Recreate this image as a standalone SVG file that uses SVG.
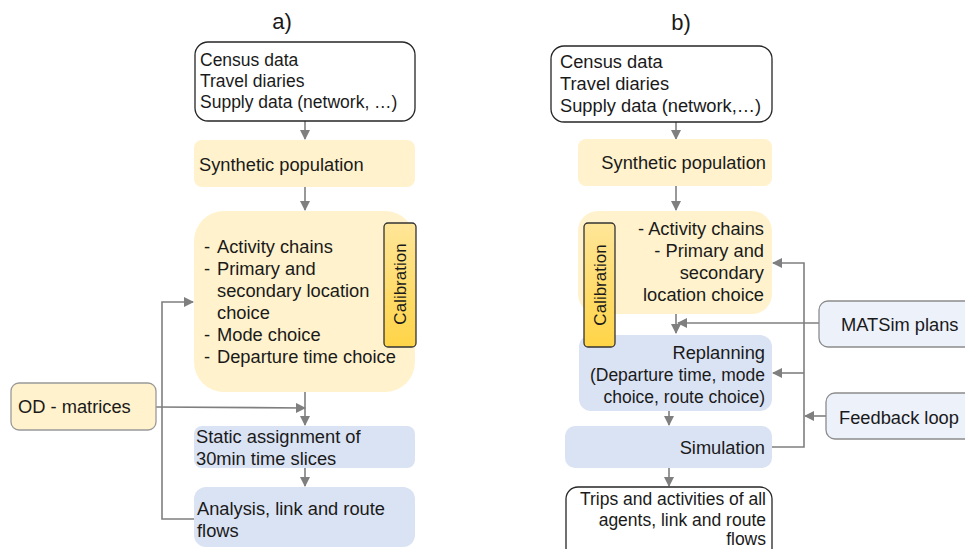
<svg xmlns="http://www.w3.org/2000/svg" width="965" height="549" viewBox="0 0 965 549">
<defs>
<marker id="ah" markerWidth="10" markerHeight="10" refX="9" refY="5" orient="auto" markerUnits="userSpaceOnUse">
<path d="M0,0 L10,5 L0,10 Z" fill="#7f7f7f"/>
</marker>
<linearGradient id="cal" x1="0" y1="0" x2="0" y2="1">
<stop offset="0" stop-color="#ffe699"/>
<stop offset="1" stop-color="#ffd447"/>
</linearGradient>
</defs>
<style>
text{font-family:"Liberation Sans",Arial,sans-serif;font-size:18.3px;fill:#1a1a1a}
.ttl{font-size:22px}
.sm{font-size:17.5px}
.cb{font-size:17px}
.r{text-anchor:end}
.white{fill:#ffffff;stroke:#262626;stroke-width:1.3}
.yel{fill:#fff2cc}
.blue{fill:#dae3f3}
.side{fill:#edf1fa;stroke:#8c8c8c;stroke-width:1.3}
.od{fill:#fff2cc;stroke:#999999;stroke-width:1.3}
.calb{fill:url(#cal);stroke:#333333;stroke-width:1.3}
.c{fill:none;stroke:#7f7f7f;stroke-width:1.6}
.a{marker-end:url(#ah)}
</style>
<rect width="965" height="549" fill="#ffffff"/>

<text class="ttl" x="282" y="29" text-anchor="middle">a)</text>
<text class="ttl" x="681" y="30" text-anchor="middle">b)</text>

<g id="connectors">
<line class="c a" x1="305" y1="121" x2="305" y2="139"/>
<line class="c a" x1="305" y1="187" x2="305" y2="210"/>
<line class="c a" x1="305" y1="392" x2="305" y2="425"/>
<line class="c a" x1="156" y1="407" x2="305" y2="408"/>
<line class="c a" x1="305" y1="468" x2="305" y2="486"/>
<polyline class="c a" points="194,519 162,519 162,302 193,302"/>

<line class="c a" x1="676" y1="122" x2="676" y2="139"/>
<line class="c a" x1="676" y1="186" x2="676" y2="210"/>
<line class="c a" x1="676" y1="314" x2="676" y2="333"/>
<line class="c a" x1="819" y1="323" x2="678" y2="323"/>
<line class="c a" x1="669" y1="411" x2="669" y2="425"/>
<line class="c a" x1="669" y1="468" x2="669" y2="486"/>
<polyline class="c a" points="772,447 804,447 804,263 773,263"/>
<line class="c a" x1="804" y1="373" x2="773" y2="373"/>
<line class="c a" x1="826" y1="416" x2="805" y2="416"/>
</g>

<g id="a-inputs">
<rect class="white" x="195" y="42" width="220" height="79" rx="13"/>
<text class="sm" x="200" y="66">Census data</text>
<text class="sm" x="200" y="87">Travel diaries</text>
<text class="sm" x="200" y="108">Supply data (network, …)</text>
</g>
<g id="a-synpop">
<rect class="yel" x="194" y="140" width="221" height="47" rx="8"/>
<text x="199" y="171">Synthetic population</text>
</g>
<g id="a-demand">
<rect class="yel" x="194" y="211" width="221" height="181" rx="30"/>
<text x="204" y="253">-</text><text x="217" y="253">Activity chains</text>
<text x="204" y="275">-</text><text x="217" y="275">Primary and</text>
<text x="217" y="297">secondary location</text>
<text x="217" y="319">choice</text>
<text x="204" y="341">-</text><text x="217" y="341">Mode choice</text>
<text x="204" y="363">-</text><text x="217" y="363">Departure time choice</text>
</g>
<g id="a-calibration">
<rect class="calb" x="384" y="223" width="32" height="124" rx="4"/>
<text class="cb" transform="translate(406,284) rotate(-90)" text-anchor="middle">Calibration</text>
</g>
<g id="a-od">
<rect class="od" x="11" y="383" width="145" height="47" rx="8"/>
<text x="18" y="413">OD - matrices</text>
</g>
<g id="a-assign">
<rect class="blue" x="194" y="426" width="221" height="42" rx="8"/>
<text x="196" y="443">Static assignment of</text>
<text x="196" y="465">30min time slices</text>
</g>
<g id="a-analysis">
<rect class="blue" x="194" y="487" width="221" height="60" rx="12"/>
<text x="197" y="515">Analysis, link and route</text>
<text x="197" y="537">flows</text>
</g>

<g id="b-inputs">
<rect class="white" x="551" y="46" width="221" height="76" rx="13"/>
<text x="560" y="68">Census data</text>
<text x="560" y="90">Travel diaries</text>
<text x="560" y="112">Supply data (network,…)</text>
</g>
<g id="b-synpop">
<rect class="yel" x="578" y="139" width="194" height="47" rx="8"/>
<text class="r" x="766" y="169">Synthetic population</text>
</g>
<g id="b-demand">
<rect class="yel" x="578" y="211" width="194" height="103" rx="20"/>
<text class="r" x="764" y="235">- Activity chains</text>
<text class="r" x="764" y="257">- Primary and</text>
<text class="r" x="764" y="279">secondary</text>
<text class="r" x="764" y="301">location choice</text>
</g>
<g id="b-replanning">
<rect class="blue" x="579" y="335" width="193" height="76" rx="12"/>
<text class="r" x="765" y="359">Replanning</text>
<text class="r sm" x="765" y="381">(Departure time, mode</text>
<text class="r sm" x="765" y="403">choice, route choice)</text>
</g>
<g id="b-calibration">
<rect class="calb" x="584" y="223" width="31" height="124" rx="4"/>
<text class="cb" transform="translate(606,285) rotate(-90)" text-anchor="middle">Calibration</text>
</g>
<g id="b-simulation">
<rect class="blue" x="565" y="426" width="207" height="42" rx="10"/>
<text class="r" x="765" y="454">Simulation</text>
</g>
<g id="b-output">
<rect class="white" x="566" y="487" width="206" height="75" rx="12"/>
<text class="r sm" x="766" y="505">Trips and activities of all</text>
<text class="r sm" x="766" y="526">agents, link and route</text>
<text class="r sm" x="766" y="545">flows</text>
</g>
<g id="b-matsim">
<rect class="side" x="819" y="301" width="160" height="46" rx="9"/>
<text x="841" y="331">MATSim plans</text>
</g>
<g id="b-feedback">
<rect class="side" x="826" y="393" width="150" height="46" rx="9"/>
<text x="839" y="424">Feedback loop</text>
</g>
</svg>
